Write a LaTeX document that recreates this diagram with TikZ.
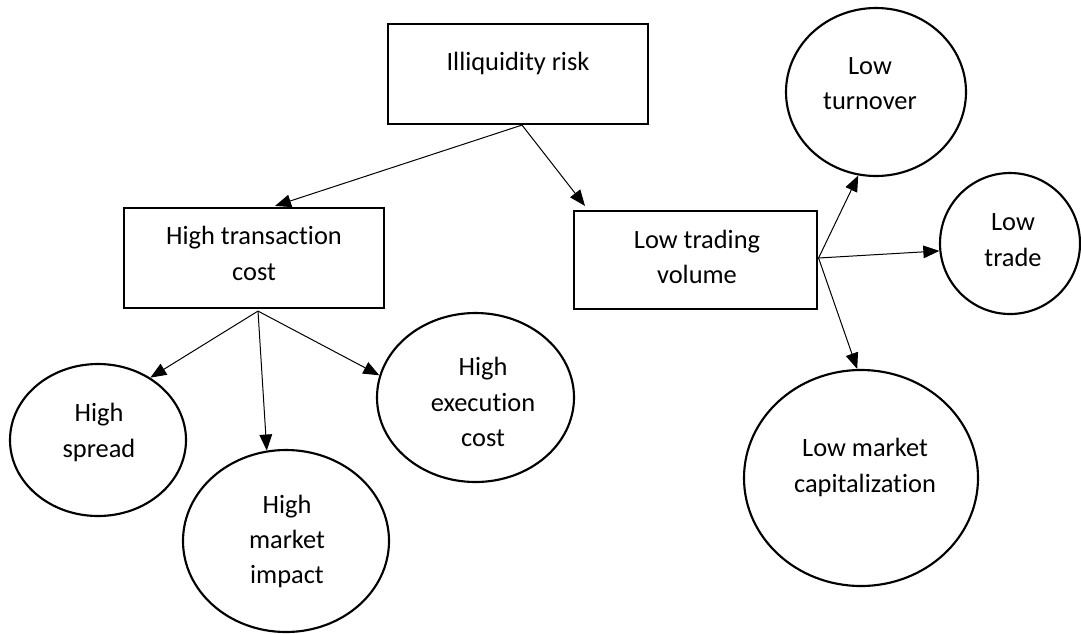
\documentclass[tikz,border=0pt]{standalone}
\usepackage{fontspec}
\setmainfont{Carlito}[Ligatures={NoCommon}]
\usetikzlibrary{shapes.geometric,arrows.meta,calc}
\begin{document}
\begin{tikzpicture}[x=0.75pt,y=-0.75pt,
  box/.style={draw,line width=1.6pt,rectangle,inner sep=0pt},
  oval/.style={draw,line width=1.6pt,ellipse,inner sep=0pt},
  txt/.style={align=center,font=\fontsize{19.8}{26.5}\selectfont,inner sep=0pt},
  arr/.style={line width=0.75pt,-{Triangle[length=12pt,width=9.5pt]}}]
\useasboundingbox (0,0) rectangle (1081,633);
% boxes
\node[box,minimum width=195pt,minimum height=75pt] (ill) at (518,74) {};
\node[box,minimum width=195pt,minimum height=75pt] (trans) at (254,258) {};
\node[box,minimum width=182.25pt,minimum height=73.5pt] (ltv) at (695.5,260) {};
% ellipses
\node[oval,minimum width=135pt,minimum height=126pt] (turn) at (876,92) {};
\node[oval,minimum width=105pt,minimum height=105.75pt] (trade) at (1010,243.5) {};
\node[oval,minimum width=175.5pt,minimum height=162pt] (cap) at (861,478) {};
\node[oval,minimum width=132pt,minimum height=114pt] (spread) at (98,440) {};
\node[oval,minimum width=154.5pt,minimum height=136.5pt] (impact) at (286,541) {};
\node[oval,minimum width=147.75pt,minimum height=126.75pt] (exec) at (475.5,397.5) {};
% texts
\node[txt] (ill-t) at (518,63) {Illiquidity risk};
\node[txt] (trans-t) at (254,253.5) {High transaction\\cost};
\node[txt] (ltv-t) at (697,257) {Low trading\\volume};
\node[txt] (turn-t) at (870,83.5) {Low\\turnover};
\node[txt] (trade-t) at (1013,240) {Low\\trade};
\node[txt] (cap-t) at (865,467.5) {Low market\\capitalization};
\node[txt] (spread-t) at (99,432.5) {High\\spread};
\node[txt] (impact-t) at (287,541.5) {High\\market\\impact};
\node[txt] (exec-t) at (483,402) {High\\execution\\cost};
% connectors
\draw[arr] ($(ill.south)+(4,0)$) -- ($(trans.north)+(21,-1)$);
\draw[arr] ($(ill.south)+(4,0)$) -- ($(ltv.north)+(-110.5,-4)$);
\draw[arr] ($(trans.south)+(4,2)$) -- (spread.50);
\draw[arr] ($(trans.south)+(4,2)$) -- (impact.102);
\draw[arr] ($(trans.south)+(4,2)$) -- (exec.167);
\draw[arr] ($(ltv.east)+(0.5,-2)$) -- (turn.258);
\draw[arr] ($(ltv.east)+(0.5,-2)$) -- (trade.186);
\draw[arr] ($(ltv.east)+(0.5,-2)$) -- (cap.92);
\end{tikzpicture}
\end{document}
